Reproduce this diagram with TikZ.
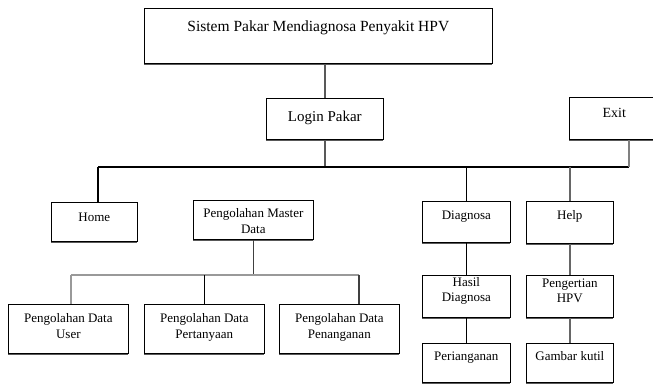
\documentclass[tikz,border=0pt]{standalone}
\usepackage{fontspec}
\setmainfont{Liberation Serif}
\usetikzlibrary{shadows}

\tikzset{
	menubox/.style={draw, line width=0.7pt, fill=white, inner sep=0pt, align=center, anchor=north west,
		font=\fontsize{13}{16}\selectfont,
		drop shadow={shadow xshift=0pt, shadow yshift=-1.6pt, fill=black!65, opacity=1}},
	bus/.style={line width=2.4pt},
	link/.style={line width=1.4pt},
}

\begin{document}
\begin{tikzpicture}[x=1pt,y=-1pt]
	\useasboundingbox (0,0) rectangle (653,387);
	\node [menubox, minimum width=348pt, text height=23pt, text depth=32pt, font=\fontsize{15.5}{18}\selectfont] (sistem) at (144,8) {Sistem Pakar Mendiagnosa Penyakit HPV};
	\node [menubox, minimum width=117pt, text height=23pt, text depth=18pt, font=\fontsize{15}{18}\selectfont] (login) at (266,98) {Login Pakar};
	\node [menubox, minimum width=90pt, text height=20pt, text depth=22pt, font=\fontsize{14}{17}\selectfont] (exit) at (569,97) {Exit};

	\node [menubox, minimum width=86pt, text height=19pt, text depth=20pt] (home) at (51,202) {Home};
	\node [menubox, minimum width=120pt, text height=33pt, text depth=6pt] (master) at (193,200) {Pengolahan Master\\Data};
	\node [menubox, minimum width=88pt, text height=18pt, text depth=23pt] (diagnosa) at (422,201) {Diagnosa};
	\node [menubox, minimum width=87pt, text height=18pt, text depth=24pt] (help) at (526,201) {Help};

	\node [menubox, minimum width=88pt, text height=26pt, text depth=16pt, font=\fontsize{13}{15}\selectfont] (hasil) at (422,275) {Hasil\\Diagnosa};
	\node [menubox, minimum width=88pt, text height=17pt, text depth=22pt] (perianganan) at (422,343) {Perianganan};
	\node [menubox, minimum width=87pt, text height=27pt, text depth=15pt, font=\fontsize{13}{15}\selectfont] (pengertian) at (526,275) {Pengertian\\HPV};
	\node [menubox, minimum width=87pt, text height=17pt, text depth=22pt] (gambar) at (526,343) {Gambar kutil};

	\node [menubox, minimum width=120pt, text height=34pt, text depth=15pt] (user) at (8,304) {Pengolahan Data\\User};
	\node [menubox, minimum width=120pt, text height=34pt, text depth=15pt] (pertanyaan) at (144,304) {Pengolahan Data\\Pertanyaan};
	\node [menubox, minimum width=120pt, text height=34pt, text depth=15pt] (penanganan) at (279,304) {Pengolahan Data\\Penanganan};

	\coordinate (busL) at (98,167);
	\coordinate (busR) at (629,167);
	\coordinate (subL) at (71,275);
	\coordinate (subR) at (359,275);

	\draw [link, black!65] (login.north) -- (login.north |- sistem.south);
	\draw [link, black!65] (login.south) -- (login.south |- busL);
	\draw [bus] (busL) -- (busR);
	\draw [link, black!50] (busR) -- (busR |- exit.south);
	\draw [link] (busL) -- (busL |- home.north);
	\draw [link] (diagnosa.north) -- (diagnosa.north |- busL);
	\draw [link, black!60] (help.north) -- (help.north |- busL);
	\draw [link] (diagnosa) -- (hasil) -- (perianganan);
	\draw [link, black!60] (help) -- (pengertian) -- (gambar);

	\draw [link, black!75] (master.south) -- (master.south |- subL);
	\draw [bus, black!40] (subL) -- (subR);
	\draw [link, line width=2pt, black!40] (subL) -- (subL |- user.north);
	\draw [link] (pertanyaan.north) -- (pertanyaan.north |- subL);
	\draw [link, black!75] (subR) -- (subR |- penanganan.north);
\end{tikzpicture}
\end{document}
